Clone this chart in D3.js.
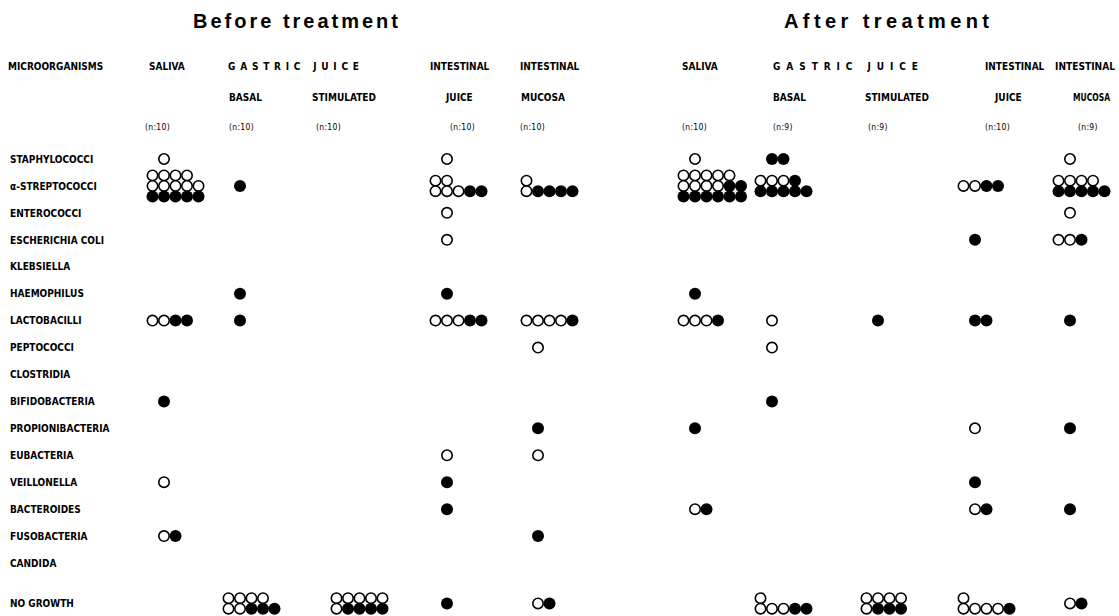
<!DOCTYPE html>
<html>
<head>
<meta charset="utf-8">
<script src="https://cdn.jsdelivr.net/npm/d3@7"></script>
<style>
  html, body { margin: 0; padding: 0; background: #fff; }
  svg { display: block; }
</style>
</head>
<body>
<svg id="chart" width="1119" height="616"></svg>
<script>
// ---------------- DATA ----------------
const organisms = [
  "STAPHYLOCOCCI", "α-STREPTOCOCCI", "ENTEROCOCCI", "ESCHERICHIA COLI",
  "KLEBSIELLA", "HAEMOPHILUS", "LACTOBACILLI", "PEPTOCOCCI", "CLOSTRIDIA",
  "BIFIDOBACTERIA", "PROPIONIBACTERIA", "EUBACTERIA", "VEILLONELLA",
  "BACTEROIDES", "FUSOBACTERIA", "CANDIDA", "NO GROWTH"
];

const periods = ["Before treatment", "After treatment"];

const columnIds = ["bSaliva", "bBasal", "bStim", "bJuice", "bMucosa",
                   "aSaliva", "aBasal", "aStim", "aJuice", "aMucosa"];

const nLabels = ["(n:10)", "(n:10)", "(n:10)", "(n:10)", "(n:10)",
                 "(n:10)", "(n:9)", "(n:9)", "(n:10)", "(n:9)"];

// cell patterns: rows separated by "|", "o" = open circle, "f" = filled circle
const beforeSaliva = [
  ["STAPHYLOCOCCI", "o"], ["α-STREPTOCOCCI", "oooo|ooooo|fffff"],
  ["LACTOBACILLI", "ooff"], ["BIFIDOBACTERIA", "f"],
  ["VEILLONELLA", "o"], ["FUSOBACTERIA", "of"]
];
const beforeBasal = [
  ["α-STREPTOCOCCI", "f"], ["HAEMOPHILUS", "f"], ["LACTOBACILLI", "f"],
  ["NO GROWTH", "oooo|oofff"]
];
const beforeStimulated = [
  ["NO GROWTH", "ooooo|offff"]
];
const beforeJuice = [
  ["STAPHYLOCOCCI", "o"], ["α-STREPTOCOCCI", "oo|oooff"], ["ENTEROCOCCI", "o"],
  ["ESCHERICHIA COLI", "o"], ["HAEMOPHILUS", "f"], ["LACTOBACILLI", "oooff"],
  ["EUBACTERIA", "o"], ["VEILLONELLA", "f"], ["BACTEROIDES", "f"],
  ["NO GROWTH", "f"]
];
const beforeMucosa = [
  ["α-STREPTOCOCCI", "o|offff"], ["LACTOBACILLI", "oooof"], ["PEPTOCOCCI", "o"],
  ["PROPIONIBACTERIA", "f"], ["EUBACTERIA", "o"], ["FUSOBACTERIA", "f"],
  ["NO GROWTH", "of"]
];
const afterSaliva = [
  ["STAPHYLOCOCCI", "o"], ["α-STREPTOCOCCI", "ooooo|ooooff|ffffff"],
  ["HAEMOPHILUS", "f"], ["LACTOBACILLI", "ooof"],
  ["PROPIONIBACTERIA", "f"], ["BACTEROIDES", "of"]
];
const afterBasal = [
  ["STAPHYLOCOCCI", "ff"], ["α-STREPTOCOCCI", "ooof|fffff"], ["LACTOBACILLI", "o"],
  ["PEPTOCOCCI", "o"], ["BIFIDOBACTERIA", "f"], ["NO GROWTH", "o|oooff"]
];
const afterStimulated = [
  ["LACTOBACILLI", "f"], ["NO GROWTH", "oooo|offf"]
];
const afterJuice = [
  ["α-STREPTOCOCCI", "ooff"], ["ESCHERICHIA COLI", "f"], ["LACTOBACILLI", "ff"],
  ["PROPIONIBACTERIA", "o"], ["VEILLONELLA", "f"], ["BACTEROIDES", "of"],
  ["NO GROWTH", "o|oooof"]
];
const afterMucosa = [
  ["STAPHYLOCOCCI", "o"], ["α-STREPTOCOCCI", "oooo|fffff"], ["ENTEROCOCCI", "o"],
  ["ESCHERICHIA COLI", "oof"], ["LACTOBACILLI", "f"], ["PROPIONIBACTERIA", "f"],
  ["BACTEROIDES", "f"], ["NO GROWTH", "of"]
];

const cellsByColumn = [beforeSaliva, beforeBasal, beforeStimulated, beforeJuice, beforeMucosa,
                       afterSaliva, afterBasal, afterStimulated, afterJuice, afterMucosa];

// ---------------- LAYOUT ----------------
const svg = d3.select("#chart");
const labelFont = "'DejaVu Sans Condensed', 'DejaVu Sans', sans-serif";

const x = d3.scaleOrdinal()
  .domain(columnIds)
  .range([164, 240, 348, 447, 538, 695, 772, 878, 975, 1070]);

const rowIndex = organisms.map((d, i) => i < organisms.length - 1 ? i : i + 0.5);
const y = d3.scaleLinear().domain([0, 15]).range([159, 563]);
const yOf = name => y(rowIndex[organisms.indexOf(name)]);

const dx = 11.5, dy = 10.5, rFill = 6, rOpen = 5.2;

// Titles
const titleLayout = [{ x: 193, w: 205 }, { x: 784, w: 205 }];
svg.selectAll("text.title").data(periods).join("text")
  .attr("class", "title")
  .attr("x", (d, i) => titleLayout[i].x)
  .attr("y", 28)
  .attr("textLength", (d, i) => titleLayout[i].w)
  .attr("lengthAdjust", "spacing")
  .style("font-family", "'Liberation Sans', Arial, sans-serif")
  .style("font-weight", "bold")
  .style("font-size", "20px")
  .text(d => d);

// Column headers
const headerLines = [
  // [text, x, y, fitted width or null, adjust mode]
  ["MICROORGANISMS", 8, 70, null],
  ["SALIVA", 149, 70, null],
  ["GASTRIC JUICE", 228, 70, 131, "spacing"],
  ["INTESTINAL", 430, 70, null],
  ["INTESTINAL", 520, 70, null],
  ["BASAL", 229, 101, null],
  ["STIMULATED", 312, 101, null],
  ["JUICE", 446, 101, null],
  ["MUCOSA", 521, 101, null],
  ["SALIVA", 682, 70, null],
  ["GASTRIC JUICE", 773, 70, 145, "spacing"],
  ["INTESTINAL", 985, 70, null],
  ["INTESTINAL", 1055, 70, 60, "spacingAndGlyphs"],
  ["BASAL", 773, 101, null],
  ["STIMULATED", 865, 101, null],
  ["JUICE", 995, 101, null],
  ["MUCOSA", 1073, 101, 37, "spacingAndGlyphs"]
];
svg.selectAll("text.hdr").data(headerLines).join("text")
  .attr("class", "hdr")
  .attr("x", d => d[1]).attr("y", d => d[2])
  .each(function (d) {
    if (d[3]) d3.select(this).attr("textLength", d[3]).attr("lengthAdjust", d[4]);
  })
  .style("font-family", labelFont)
  .style("font-weight", "bold")
  .style("font-size", "10px")
  .text(d => d[0]);

const nLabelX = [145, 229, 316, 450, 520, 682, 773, 868, 985, 1078];
svg.selectAll("text.nlab").data(nLabels).join("text")
  .attr("class", "nlab")
  .attr("x", (d, i) => nLabelX[i])
  .attr("y", 130)
  .style("font-family", labelFont)
  .style("font-size", "8.5px")
  .style("letter-spacing", "0.3px")
  .text(d => d);

// Organism labels
svg.selectAll("text.org").data(organisms).join("text")
  .attr("class", "org")
  .attr("x", 10)
  .attr("y", d => yOf(d) + 3.7)
  .style("font-family", labelFont)
  .style("font-weight", "bold")
  .style("font-size", "10px")
  .text(d => d);

// Dots
const dots = [];
cellsByColumn.forEach((cells, ci) => {
  const cx = x(columnIds[ci]);
  cells.forEach(([org, pattern]) => {
    const rows = pattern.split("|");
    const width = d3.max(rows, r => r.length);
    const x0 = cx - (width >= 3 ? dx : 0);
    const cy = yOf(org);
    rows.forEach((row, k) => {
      const yy = cy + (k - (rows.length - 1) / 2) * dy;
      row.split("").forEach((ch, i) => {
        dots.push({ x: x0 + i * dx, y: yy, filled: ch === "f", k });
      });
    });
  });
});

const g = svg.append("g");
g.selectAll("circle.f").data(dots.filter(d => d.filled)).join("circle")
  .attr("class", "f")
  .attr("cx", d => d.x).attr("cy", d => d.y).attr("r", rFill)
  .attr("fill", "#000");
g.selectAll("circle.o").data(dots.filter(d => !d.filled)).join("circle")
  .attr("class", "o")
  .attr("cx", d => d.x).attr("cy", d => d.y).attr("r", rOpen)
  .attr("fill", "#fff").attr("stroke", "#000").attr("stroke-width", 1.6);
</script>
</body>
</html>
